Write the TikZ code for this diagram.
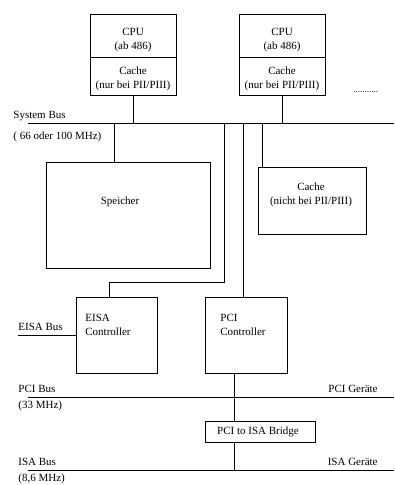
\documentclass[tikz,border=0pt]{standalone}
\usepackage{fontspec}
\setmainfont{Liberation Serif}
\begin{document}
\begin{tikzpicture}[x=1pt,y=-1pt,line width=0.8pt,
  box/.style={draw},
  lbl/.style={inner sep=0pt,font=\fontsize{11}{14}\selectfont},
  lblc/.style={lbl,align=center},
  lbll/.style={lbl,align=left,anchor=west}]
\useasboundingbox (0,0) rectangle (394,485);
% CPU boxes
\draw (90,14) rectangle (176,95); \draw (90,57) -- (176,57);
\draw (239,14) rectangle (325,95); \draw (239,57) -- (325,57);
\node[lblc] (cpu1) at (133,40.5) {CPU\\(ab 486)};
\node[lblc] (cache1) at (133,79) {Cache\\(nur bei PII/PIII)};
\node[lblc] (cpu2) at (282,40.5) {CPU\\(ab 486)};
\node[lblc] (cache2) at (282,79) {Cache\\(nur bei PII/PIII)};
\node[lbl,anchor=west,font=\fontsize{9}{11}\selectfont] (dots) at (353,92) {...........};
% system bus
\coordinate (sbL) at (28,123); \coordinate (sbR) at (394,123);
\draw (sbL) -- (sbR);
\draw (133,95) -- (133,123);
\draw (282,95) -- (282,123);
\node[lbll] (sbt) at (13,116) {System Bus};
\node[lbll] (sbf) at (13,137) {( 66 oder 100 MHz)};
% Speicher
\draw (46,162) rectangle (210,268);
\node[lblc] (sp) at (120,202) {Speicher};
\draw (114,123) -- (114,162);
% Cache nicht
\draw (258,167) rectangle (366,234);
\node[lblc] (cn) at (311,195) {Cache\\(nicht bei PII/PIII)};
\draw (262,123) -- (262,167);
% EISA
\draw (76,297) rectangle (157,373);
\node[lbll] (eisa) at (85,325) {EISA\\Controller};
\draw (224,123) -- (224,282) -- (109,282) -- (109,297);
\draw (18,335) -- (76,335);
\node[lbll] (eb) at (18,327) {EISA Bus};
% PCI controller
\draw (205,297) rectangle (287,373);
\node[lbll] (pcic) at (220,325) {PCI\\Controller};
\draw (243,123) -- (243,297);
% PCI bus
\draw (28,397) -- (394,397);
\node[lbll] (pb) at (18,389) {PCI Bus};
\node[lbll] (pbf) at (18,405.5) {(33 MHz)};
\node[lbl,anchor=east] (pg) at (378,389) {PCI Geräte};
\draw (234,373) -- (234,421);
% Bridge
\draw (205,421) rectangle (315,442);
\node[lblc] (br) at (258,432) {PCI to ISA Bridge};
\draw (234,442) -- (234,470);
% ISA bus
\draw (28,470) -- (394,470);
\node[lbll] (ib) at (18,462) {ISA Bus};
\node[lbll] (ibf) at (18,479) {(8,6 MHz)};
\node[lbl,anchor=east] (ig) at (378,462) {ISA Geräte};
\end{tikzpicture}
\end{document}
